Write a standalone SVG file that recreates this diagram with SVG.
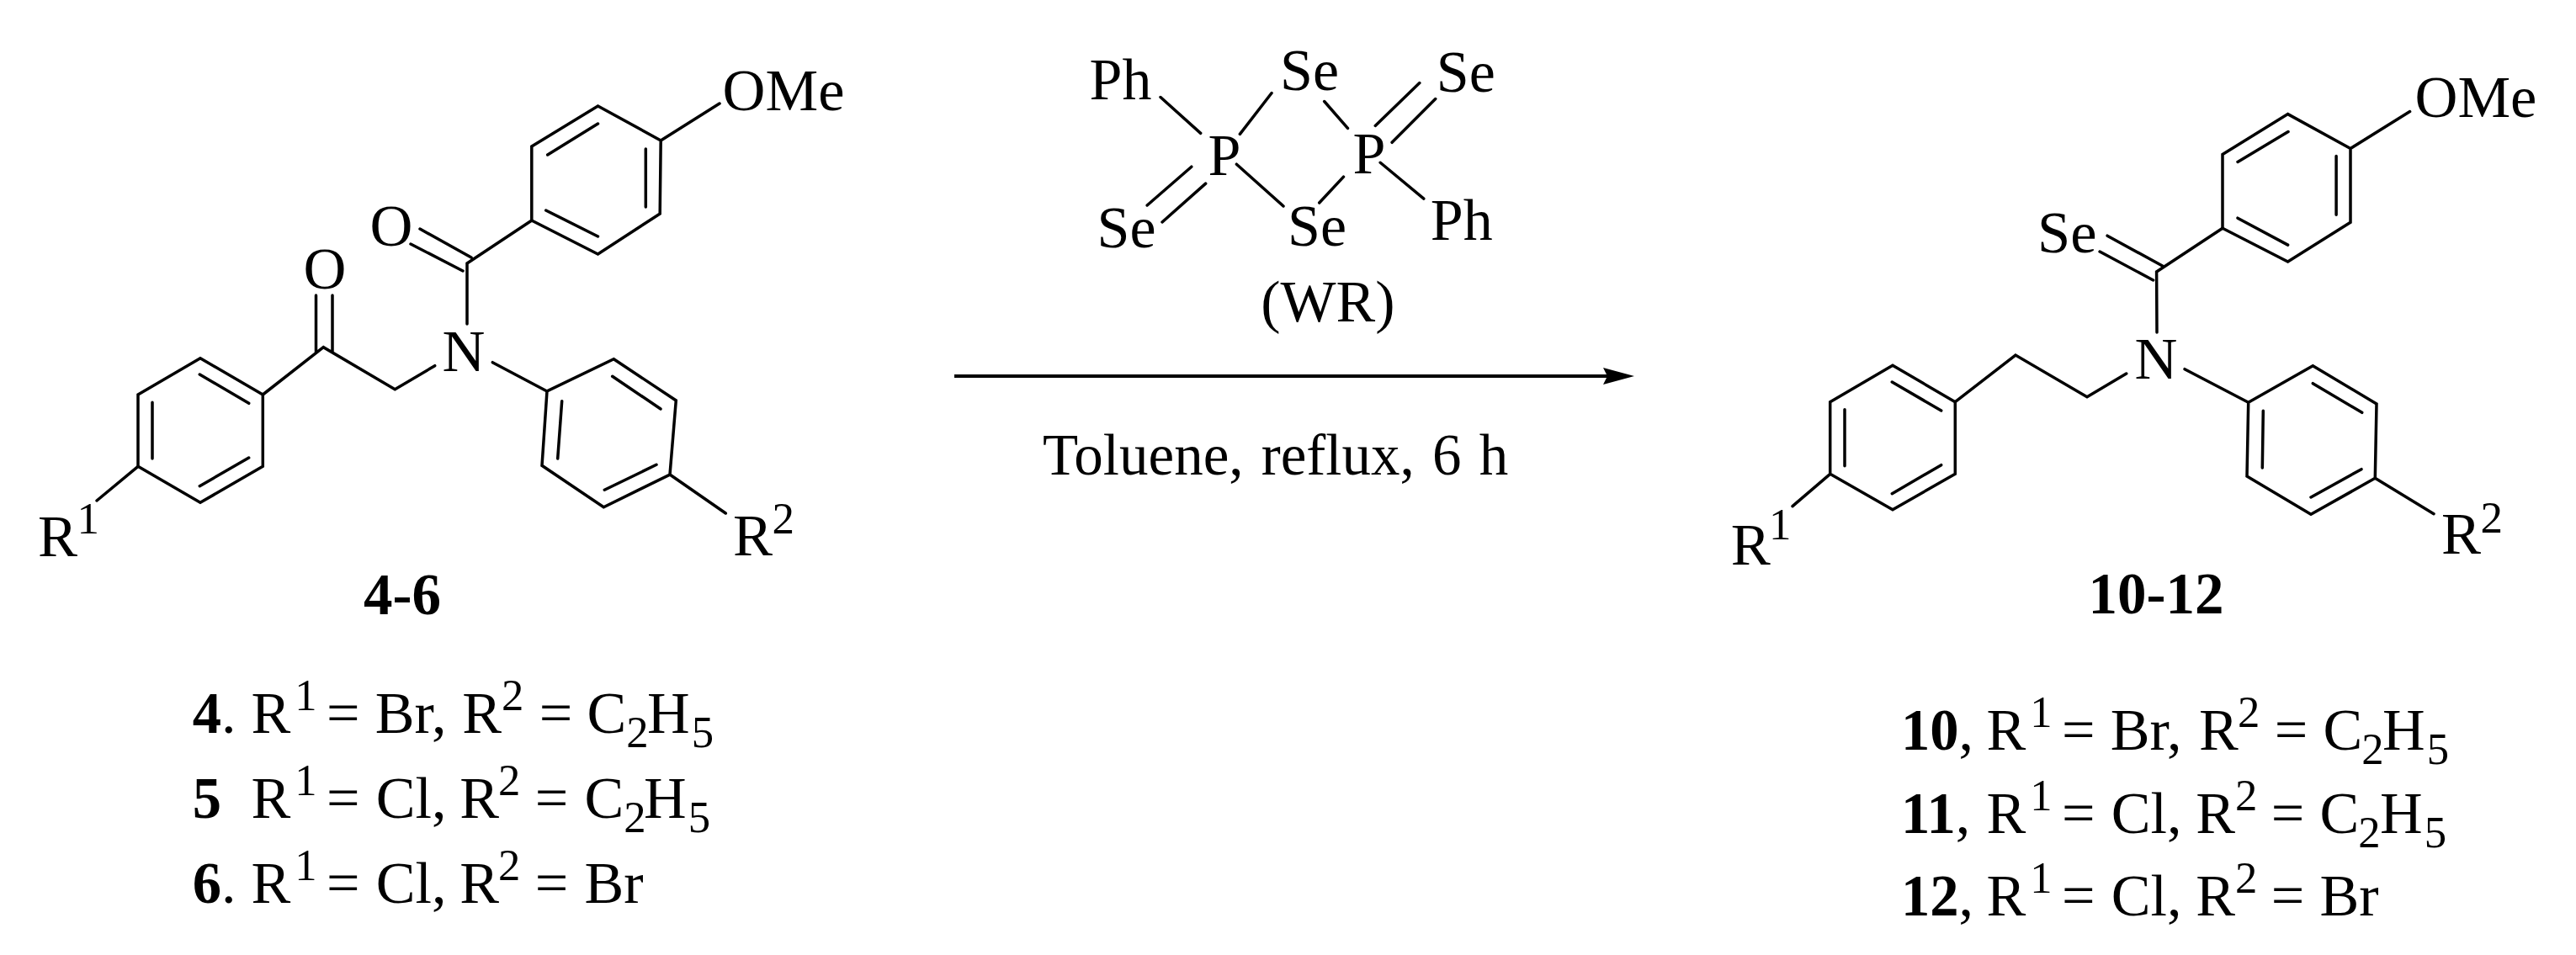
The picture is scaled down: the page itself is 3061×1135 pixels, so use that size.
<svg xmlns="http://www.w3.org/2000/svg" width="3061" height="1135" viewBox="0 0 3061 1135">
<defs>
<style>
text{font-family:"Liberation Serif","Times New Roman",serif;font-size:70.5px;fill:#000}
.b{font-weight:700;font-size:69px}
.s{font-size:53px}
path{fill:none;stroke:#000;stroke-width:3.5;stroke-linecap:round;stroke-linejoin:miter}
.arr{stroke-width:4.2;stroke-linecap:butt}
.h{fill:#000;stroke:none}
</style>
<marker id="head" markerUnits="userSpaceOnUse" markerWidth="40" markerHeight="24" refX="10" refY="12" orient="auto"><path class="h" d="M0 2L37 12L0 22L5 12Z"/></marker>
</defs>
<rect width="3061" height="1135" fill="#fff"/>

<g id="compound-4-6">
<path d="M238 425.7L312.3 469V554.3L238 597.3L164 554.3V469ZM237.3 445L295.7 479.3M295.7 544L237.3 577.7M181 478.3V545"/>
<path d="M164 554.3L115 595M312.3 469L384.3 412.7L469.3 462.7L516.7 434.7M375.5 351V419M395 351V419"/>
<path d="M585.3 430.7L650 465M729.3 426.7L803.3 476L796 564L717.3 602.7L644 553.3L650 465ZM727.7 447.3L785 486M780 552.3L718.3 582.3M667.7 476.7L662.7 545M796 564L862.3 610"/>
<path d="M555 385L555 313L631.8 262M710.5 126L785.2 167L784.2 254L710.5 302L631.8 262V174ZM710.5 147L650.7 184M767.3 177V246M710.5 281L648.7 250M785.2 167L855 123M499 272L560 306M488 290L550 322"/>
<text x="858.6" y="131">OMe</text>
<text x="386" y="343" text-anchor="middle">O</text>
<text x="465" y="292" text-anchor="middle">O</text>
<text x="551" y="441" text-anchor="middle">N</text>
<text x="45" y="661">R</text><text class="s" x="91.5" y="634">1</text>
<text x="871" y="660">R</text><text class="s" x="917.5" y="634">2</text>
<text class="b" x="478" y="730" text-anchor="middle">4-6</text>
</g>

<g id="reagent-WR" transform="translate(7.7 0) scale(.993 .996)">
<path d="M1381 116L1429 159M1476 160L1514 111M1577 121L1605 153M1638 150L1691 99M1658 170L1710 118M1472 196L1528 246M1600 211L1571 242M1644 194L1696 237M1418 199L1365 245M1435 219L1383 265"/>
<text x="1296" y="118">Ph</text>
<text x="1524" y="107">Se</text>
<text x="1711" y="109">Se</text>
<text x="1438" y="209">P</text>
<text x="1611" y="207">P</text>
<text x="1305" y="295">Se</text>
<text x="1533" y="293">Se</text>
<text x="1704" y="286">Ph</text>
<text x="1501" y="384">(WR)</text>
</g>

<g id="connectors">
<path id="reaction-arrow" class="arr" d="M1134 447H1915" marker-end="url(#head)"/>
</g>
<text id="conditions" x="1239" y="564" font-size="69" style="font-size:69px" word-spacing="4">Toluene, reflux, 6 h</text>

<g id="compound-10-12">
<path d="M2249 434.3L2323.3 477.7V563.3L2249 605.7L2174.7 563.3V477.7ZM2248.3 454L2306.7 488M2306.7 552.7L2248.3 586.7M2192 486.7V553.7M2174.7 563.3L2130 601.7"/>
<path d="M2323.3 477.7L2395 422L2480 471.7L2526.7 444M2596 438.7L2671.7 478.3"/>
<path d="M2748.3 434.7L2824 480L2822.3 568.3L2746 611.3L2670 566L2671.7 478.3ZM2748.3 455.7L2806.7 490.3M2806 557.7L2746 591M2689.3 488.3L2688.3 556M2822.3 568.3L2892 610.7"/>
<path d="M2563 395L2562.6 323L2641 271.2M2504.1 280.2L2569.6 316M2495.1 299L2558.6 333"/>
<path d="M2718.6 135.6L2793 176.5V264.2L2718.6 311L2641 271.2V183.4ZM2719 156.5L2659 192.4M2776.1 185.4V255.2M2718.6 291.1L2659 259.2M2793 176.5L2863.6 132.6"/>
<text x="2869.5" y="139.3">OMe</text>
<text x="2421" y="299.5">Se</text>
<text x="2562" y="449.5" text-anchor="middle">N</text>
<text x="2056.7" y="671">R</text><text class="s" x="2102" y="641">1</text>
<text x="2901" y="658.3">R</text><text class="s" x="2947.5" y="632.7">2</text>
<text class="b" x="2562" y="729" text-anchor="middle">10-12</text>
</g>

<g id="list-4-6" transform="translate(.9 0) scale(.995 1)">
<text y="871"><tspan class="b" x="229">4</tspan><tspan>.</tspan><tspan x="299">R</tspan><tspan class="s" x="351" dy="-27">1</tspan><tspan x="389" dy="27">=</tspan><tspan x="447">Br,</tspan><tspan x="551">R</tspan><tspan class="s" x="598" dy="-27">2</tspan><tspan x="643" dy="27">=</tspan><tspan x="700">C</tspan><tspan class="s" x="747" dy="17">2</tspan><tspan x="772" dy="-17">H</tspan><tspan class="s" x="825" dy="17">5</tspan></text>
<text y="972"><tspan class="b" x="229">5</tspan><tspan x="299">R</tspan><tspan class="s" x="351" dy="-27">1</tspan><tspan x="389" dy="27">=</tspan><tspan x="448">Cl,</tspan><tspan x="548">R</tspan><tspan class="s" x="594" dy="-27">2</tspan><tspan x="638" dy="27">=</tspan><tspan x="697">C</tspan><tspan class="s" x="744" dy="17">2</tspan><tspan x="768" dy="-17">H</tspan><tspan class="s" x="821" dy="17">5</tspan></text>
<text y="1073"><tspan class="b" x="229">6</tspan><tspan>.</tspan><tspan x="299">R</tspan><tspan class="s" x="351" dy="-27">1</tspan><tspan x="389" dy="27">=</tspan><tspan x="448">Cl,</tspan><tspan x="548">R</tspan><tspan class="s" x="594" dy="-27">2</tspan><tspan x="638" dy="27">=</tspan><tspan x="697">Br</tspan></text>
</g>

<g id="list-10-12" transform="translate(11.2 0) scale(.995 1)">
<text y="891"><tspan class="b" x="2259">10</tspan><tspan>,</tspan><tspan x="2361">R</tspan><tspan class="s" x="2413" dy="-27">1</tspan><tspan x="2451" dy="27">=</tspan><tspan x="2509">Br,</tspan><tspan x="2615">R</tspan><tspan class="s" x="2661" dy="-27">2</tspan><tspan x="2705" dy="27">=</tspan><tspan x="2763">C</tspan><tspan class="s" x="2809" dy="17">2</tspan><tspan x="2834" dy="-17">H</tspan><tspan class="s" x="2887" dy="17">5</tspan></text>
<text y="990"><tspan class="b" x="2259">11</tspan><tspan>,</tspan><tspan x="2361">R</tspan><tspan class="s" x="2413" dy="-27">1</tspan><tspan x="2451" dy="27">=</tspan><tspan x="2510">Cl,</tspan><tspan x="2611">R</tspan><tspan class="s" x="2658" dy="-27">2</tspan><tspan x="2701" dy="27">=</tspan><tspan x="2759">C</tspan><tspan class="s" x="2805" dy="17">2</tspan><tspan x="2831" dy="-17">H</tspan><tspan class="s" x="2884" dy="17">5</tspan></text>
<text y="1088"><tspan class="b" x="2259">12</tspan><tspan>,</tspan><tspan x="2361">R</tspan><tspan class="s" x="2413" dy="-27">1</tspan><tspan x="2451" dy="27">=</tspan><tspan x="2510">Cl,</tspan><tspan x="2611">R</tspan><tspan class="s" x="2658" dy="-27">2</tspan><tspan x="2701" dy="27">=</tspan><tspan x="2759">Br</tspan></text>
</g>
</svg>
